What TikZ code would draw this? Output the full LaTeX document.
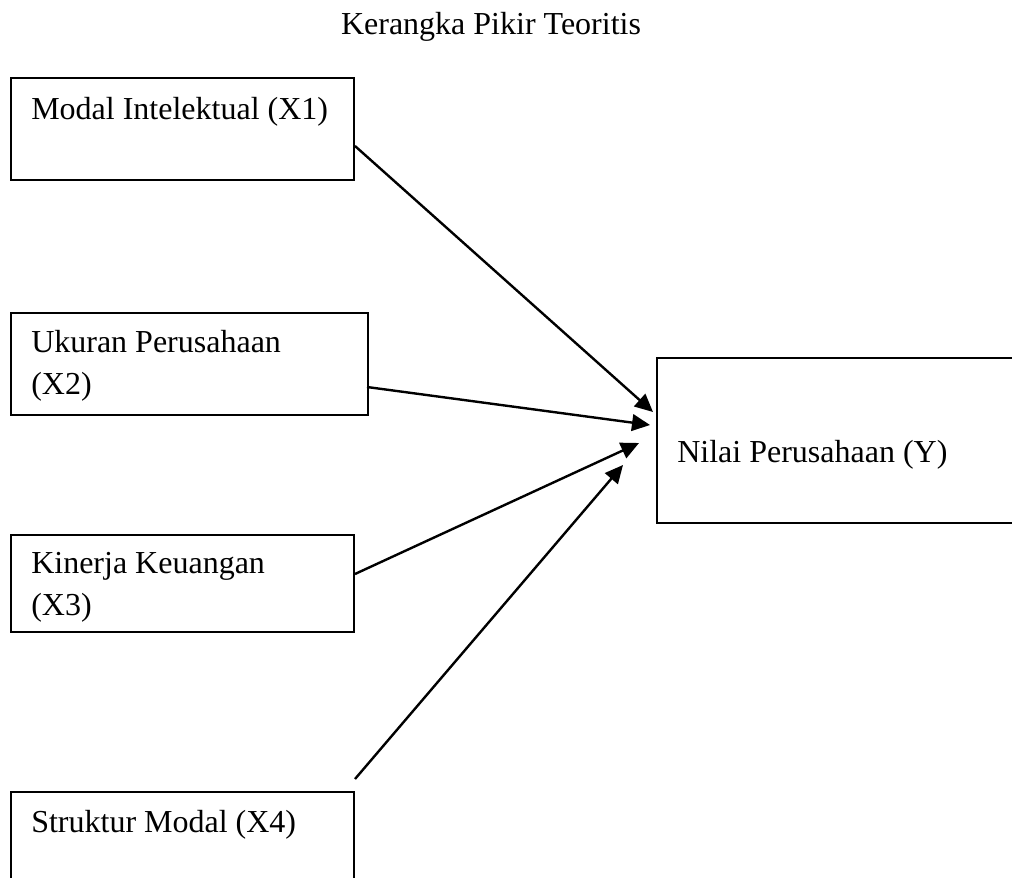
\documentclass[tikz,border=0pt]{standalone}
\usepackage{fontspec}
\setmainfont{Liberation Serif}
\usetikzlibrary{arrows.meta,calc}
\begin{document}
\begin{tikzpicture}[x=0.75pt,y=-0.75pt,
  box/.style={draw=black,line width=1.5pt,rectangle,inner sep=0pt,anchor=north west},
  lbl/.style={inner sep=0pt,anchor=base west,font=\fontsize{24pt}{31.5pt}\selectfont,align=left},
  conn/.style={line width=1.8pt,-{Triangle[length=13.5pt,width=12.5pt]}}]
\clip (0,0) rectangle (1012,877);
\fill[white] (0,0) rectangle (1012,877);
\node[inner sep=0pt,anchor=base,font=\fontsize{24pt}{28pt}\selectfont] (title) at (491,35) {Kerangka Pikir Teoritis};
\node[box,minimum width=343*0.75pt,minimum height=102*0.75pt] (bx1) at (10,77) {};
\node[box,minimum width=357*0.75pt,minimum height=102*0.75pt] (bx2) at (10,312) {};
\node[box,minimum width=343*0.75pt,minimum height=97*0.75pt] (bx3) at (10,534) {};
\node[box,minimum width=343*0.75pt,minimum height=120*0.75pt] (bx4) at (10,791) {};
\node[box,minimum width=380*0.75pt,minimum height=165*0.75pt] (by) at (656,357) {};
\node[lbl] (t1) at (31,120) {Modal Intelektual (X1)};
\node[lbl] (t2) at (31,394) {Ukuran Perusahaan\\(X2)};
\node[lbl] (t3) at (31,615) {Kinerja Keuangan\\(X3)};
\node[lbl] (t4) at (31,832) {Struktur Modal (X4)};
\node[lbl] (ty) at (677,462) {Nilai Perusahaan (Y)};
\coordinate (e1) at (653,412);
\coordinate (e2) at (650,425);
\coordinate (e3) at (639,443);
\coordinate (e4) at (623,465);
\draw[conn] ($(bx1.north east)+(0,69)$) -- (e1);
\draw[conn] ($(bx2.north east)+(-2,75)$) -- (e2);
\draw[conn] ($(bx3.north east)+(0,40)$) -- (e3);
\draw[conn] ($(bx4.north east)+(0,-12)$) -- (e4);
\end{tikzpicture}
\end{document}
